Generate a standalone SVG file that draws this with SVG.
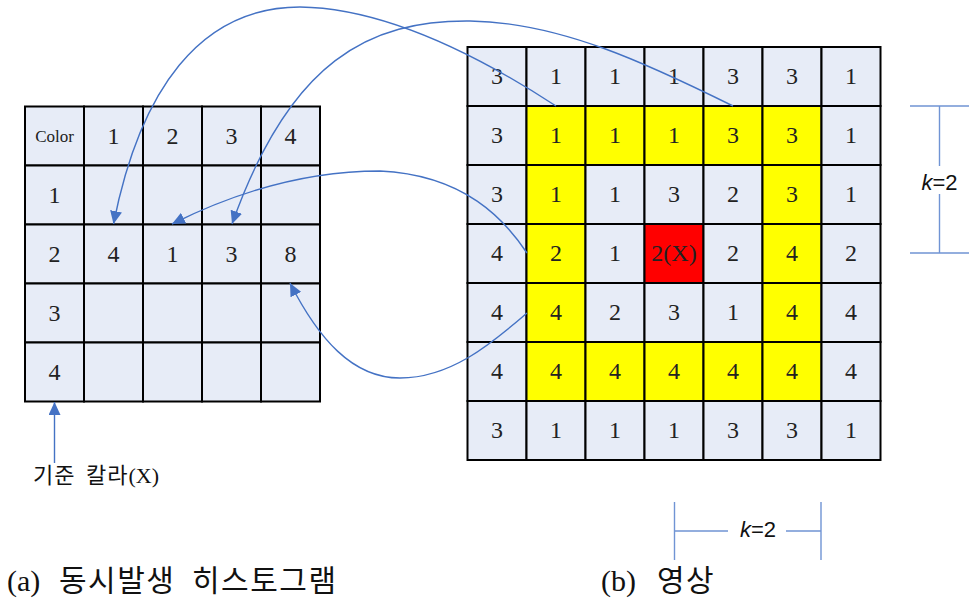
<svg xmlns="http://www.w3.org/2000/svg" width="978" height="604" viewBox="0 0 978 604">
<style>
.c{fill:#E7ECF7;stroke:#000;stroke-width:2}
.y{fill:#FFFF00;stroke:#000;stroke-width:2}
.r{fill:#FF0000;stroke:#000;stroke-width:2}
.t{font-family:"Liberation Serif","Noto Sans CJK KR",serif;font-size:24px;fill:#222;text-anchor:middle}
.sm{font-size:17px}
.con{fill:none;stroke:#4472C4;stroke-width:1.4}
.dim{fill:none;stroke:#7094D4;stroke-width:1.4}
.k{font-family:"Liberation Sans",Arial,sans-serif;font-size:22px;fill:#111;text-anchor:middle}
.cap{font-family:"Liberation Serif","Noto Sans CJK KR",serif;font-size:30px;fill:#111}
.h{letter-spacing:1.5px}
.lbl{font-family:"Liberation Serif","Noto Sans CJK KR",serif;font-size:22px;fill:#111}
</style>
<defs>
<marker id="ah" markerUnits="userSpaceOnUse" markerWidth="13" markerHeight="12" refX="13" refY="6" orient="auto">
<path d="M0,0 L13,6 L0,12 z" fill="#4472C4"/>
</marker>
</defs>
<rect width="978" height="604" fill="#fff"/>
<g id="histogram">
<g id="h00"><rect class="c" x="25" y="106.5" width="59" height="59"/><text class="t sm" x="54.5" y="141.5">Color</text></g>
<g id="h01"><rect class="c" x="84" y="106.5" width="59" height="59"/><text class="t" x="113.5" y="144">1</text></g>
<g id="h02"><rect class="c" x="143" y="106.5" width="59" height="59"/><text class="t" x="172.5" y="144">2</text></g>
<g id="h03"><rect class="c" x="202" y="106.5" width="59" height="59"/><text class="t" x="231.5" y="144">3</text></g>
<g id="h04"><rect class="c" x="261" y="106.5" width="59" height="59"/><text class="t" x="290.5" y="144">4</text></g>
<g id="h10"><rect class="c" x="25" y="165.5" width="59" height="59"/><text class="t" x="54.5" y="203">1</text></g>
<g id="h11"><rect class="c" x="84" y="165.5" width="59" height="59"/></g>
<g id="h12"><rect class="c" x="143" y="165.5" width="59" height="59"/></g>
<g id="h13"><rect class="c" x="202" y="165.5" width="59" height="59"/></g>
<g id="h14"><rect class="c" x="261" y="165.5" width="59" height="59"/></g>
<g id="h20"><rect class="c" x="25" y="224.5" width="59" height="59"/><text class="t" x="54.5" y="262">2</text></g>
<g id="h21"><rect class="c" x="84" y="224.5" width="59" height="59"/><text class="t" x="113.5" y="262">4</text></g>
<g id="h22"><rect class="c" x="143" y="224.5" width="59" height="59"/><text class="t" x="172.5" y="262">1</text></g>
<g id="h23"><rect class="c" x="202" y="224.5" width="59" height="59"/><text class="t" x="231.5" y="262">3</text></g>
<g id="h24"><rect class="c" x="261" y="224.5" width="59" height="59"/><text class="t" x="290.5" y="262">8</text></g>
<g id="h30"><rect class="c" x="25" y="283.5" width="59" height="59"/><text class="t" x="54.5" y="321">3</text></g>
<g id="h31"><rect class="c" x="84" y="283.5" width="59" height="59"/></g>
<g id="h32"><rect class="c" x="143" y="283.5" width="59" height="59"/></g>
<g id="h33"><rect class="c" x="202" y="283.5" width="59" height="59"/></g>
<g id="h34"><rect class="c" x="261" y="283.5" width="59" height="59"/></g>
<g id="h40"><rect class="c" x="25" y="342.5" width="59" height="59"/><text class="t" x="54.5" y="380">4</text></g>
<g id="h41"><rect class="c" x="84" y="342.5" width="59" height="59"/></g>
<g id="h42"><rect class="c" x="143" y="342.5" width="59" height="59"/></g>
<g id="h43"><rect class="c" x="202" y="342.5" width="59" height="59"/></g>
<g id="h44"><rect class="c" x="261" y="342.5" width="59" height="59"/></g>
</g>
<g id="image">
<g id="i00"><rect class="c" x="467.5" y="47" width="59" height="59"/><text class="t" x="497" y="84">3</text></g>
<g id="i01"><rect class="c" x="526.5" y="47" width="59" height="59"/><text class="t" x="556" y="84">1</text></g>
<g id="i02"><rect class="c" x="585.5" y="47" width="59" height="59"/><text class="t" x="615" y="84">1</text></g>
<g id="i03"><rect class="c" x="644.5" y="47" width="59" height="59"/><text class="t" x="674" y="84">1</text></g>
<g id="i04"><rect class="c" x="703.5" y="47" width="59" height="59"/><text class="t" x="733" y="84">3</text></g>
<g id="i05"><rect class="c" x="762.5" y="47" width="59" height="59"/><text class="t" x="792" y="84">3</text></g>
<g id="i06"><rect class="c" x="821.5" y="47" width="59" height="59"/><text class="t" x="851" y="84">1</text></g>
<g id="i10"><rect class="c" x="467.5" y="106" width="59" height="59"/><text class="t" x="497" y="143">3</text></g>
<g id="i11"><rect class="y" x="526.5" y="106" width="59" height="59"/><text class="t" x="556" y="143">1</text></g>
<g id="i12"><rect class="y" x="585.5" y="106" width="59" height="59"/><text class="t" x="615" y="143">1</text></g>
<g id="i13"><rect class="y" x="644.5" y="106" width="59" height="59"/><text class="t" x="674" y="143">1</text></g>
<g id="i14"><rect class="y" x="703.5" y="106" width="59" height="59"/><text class="t" x="733" y="143">3</text></g>
<g id="i15"><rect class="y" x="762.5" y="106" width="59" height="59"/><text class="t" x="792" y="143">3</text></g>
<g id="i16"><rect class="c" x="821.5" y="106" width="59" height="59"/><text class="t" x="851" y="143">1</text></g>
<g id="i20"><rect class="c" x="467.5" y="165" width="59" height="59"/><text class="t" x="497" y="202">3</text></g>
<g id="i21"><rect class="y" x="526.5" y="165" width="59" height="59"/><text class="t" x="556" y="202">1</text></g>
<g id="i22"><rect class="c" x="585.5" y="165" width="59" height="59"/><text class="t" x="615" y="202">1</text></g>
<g id="i23"><rect class="c" x="644.5" y="165" width="59" height="59"/><text class="t" x="674" y="202">3</text></g>
<g id="i24"><rect class="c" x="703.5" y="165" width="59" height="59"/><text class="t" x="733" y="202">2</text></g>
<g id="i25"><rect class="y" x="762.5" y="165" width="59" height="59"/><text class="t" x="792" y="202">3</text></g>
<g id="i26"><rect class="c" x="821.5" y="165" width="59" height="59"/><text class="t" x="851" y="202">1</text></g>
<g id="i30"><rect class="c" x="467.5" y="224" width="59" height="59"/><text class="t" x="497" y="261">4</text></g>
<g id="i31"><rect class="y" x="526.5" y="224" width="59" height="59"/><text class="t" x="556" y="261">2</text></g>
<g id="i32"><rect class="c" x="585.5" y="224" width="59" height="59"/><text class="t" x="615" y="261">1</text></g>
<g id="i33"><rect class="r" x="644.5" y="224" width="59" height="59"/><text class="t" x="674" y="261">2(X)</text></g>
<g id="i34"><rect class="c" x="703.5" y="224" width="59" height="59"/><text class="t" x="733" y="261">2</text></g>
<g id="i35"><rect class="y" x="762.5" y="224" width="59" height="59"/><text class="t" x="792" y="261">4</text></g>
<g id="i36"><rect class="c" x="821.5" y="224" width="59" height="59"/><text class="t" x="851" y="261">2</text></g>
<g id="i40"><rect class="c" x="467.5" y="283" width="59" height="59"/><text class="t" x="497" y="320">4</text></g>
<g id="i41"><rect class="y" x="526.5" y="283" width="59" height="59"/><text class="t" x="556" y="320">4</text></g>
<g id="i42"><rect class="c" x="585.5" y="283" width="59" height="59"/><text class="t" x="615" y="320">2</text></g>
<g id="i43"><rect class="c" x="644.5" y="283" width="59" height="59"/><text class="t" x="674" y="320">3</text></g>
<g id="i44"><rect class="c" x="703.5" y="283" width="59" height="59"/><text class="t" x="733" y="320">1</text></g>
<g id="i45"><rect class="y" x="762.5" y="283" width="59" height="59"/><text class="t" x="792" y="320">4</text></g>
<g id="i46"><rect class="c" x="821.5" y="283" width="59" height="59"/><text class="t" x="851" y="320">4</text></g>
<g id="i50"><rect class="c" x="467.5" y="342" width="59" height="59"/><text class="t" x="497" y="379">4</text></g>
<g id="i51"><rect class="y" x="526.5" y="342" width="59" height="59"/><text class="t" x="556" y="379">4</text></g>
<g id="i52"><rect class="y" x="585.5" y="342" width="59" height="59"/><text class="t" x="615" y="379">4</text></g>
<g id="i53"><rect class="y" x="644.5" y="342" width="59" height="59"/><text class="t" x="674" y="379">4</text></g>
<g id="i54"><rect class="y" x="703.5" y="342" width="59" height="59"/><text class="t" x="733" y="379">4</text></g>
<g id="i55"><rect class="y" x="762.5" y="342" width="59" height="59"/><text class="t" x="792" y="379">4</text></g>
<g id="i56"><rect class="c" x="821.5" y="342" width="59" height="59"/><text class="t" x="851" y="379">4</text></g>
<g id="i60"><rect class="c" x="467.5" y="401" width="59" height="59"/><text class="t" x="497" y="438">3</text></g>
<g id="i61"><rect class="c" x="526.5" y="401" width="59" height="59"/><text class="t" x="556" y="438">1</text></g>
<g id="i62"><rect class="c" x="585.5" y="401" width="59" height="59"/><text class="t" x="615" y="438">1</text></g>
<g id="i63"><rect class="c" x="644.5" y="401" width="59" height="59"/><text class="t" x="674" y="438">1</text></g>
<g id="i64"><rect class="c" x="703.5" y="401" width="59" height="59"/><text class="t" x="733" y="438">3</text></g>
<g id="i65"><rect class="c" x="762.5" y="401" width="59" height="59"/><text class="t" x="792" y="438">3</text></g>
<g id="i66"><rect class="c" x="821.5" y="401" width="59" height="59"/><text class="t" x="851" y="438">1</text></g>
</g>
<g id="connectors">
<path class="con" marker-end="url(#ah)" d="M556,106 C470,50 380,8 300,7 C200,7 140,90 113.5,224"/>
<path class="con" marker-end="url(#ah)" d="M733,106 C650,65 560,22 470,21 C370,20 290,60 232,224"/>
<path class="con" marker-end="url(#ah)" d="M527,253 C505,220 465,175 380,171 C300,171 230,195 172,224"/>
<path class="con" marker-end="url(#ah)" d="M527,313 C490,345 450,378 400,378 C352,378 318,338 290,283"/>
<path class="con" marker-end="url(#ah)" d="M54.5,463 L54.5,402"/>
</g>
<g id="k-vertical">
<path class="dim" d="M910,106 H969 M910,253 H969 M939.5,106 V166 M939.5,194 V253"/>
<text class="k" x="939.5" y="190"><tspan font-style="italic">k</tspan>=2</text>
</g>
<g id="k-horizontal">
<path class="dim" d="M674.5,502 V560 M821,502 V560 M674.5,531 H728 M786,531 H821"/>
<text class="k" x="758" y="537"><tspan font-style="italic">k</tspan>=2</text>
</g>
<g id="labels">
<text class="lbl" x="33" y="483"><tspan letter-spacing="1">기준</tspan> <tspan x="86" letter-spacing="1">칼라</tspan>(X)</text>
<text class="cap" y="591"><tspan x="7">(a)</tspan><tspan class="h" x="59">동시발생</tspan><tspan class="h" x="192">히스토그램</tspan></text>
<text class="cap" y="591"><tspan x="601">(b)</tspan><tspan class="h" x="657">영상</tspan></text>
</g>
</svg>
